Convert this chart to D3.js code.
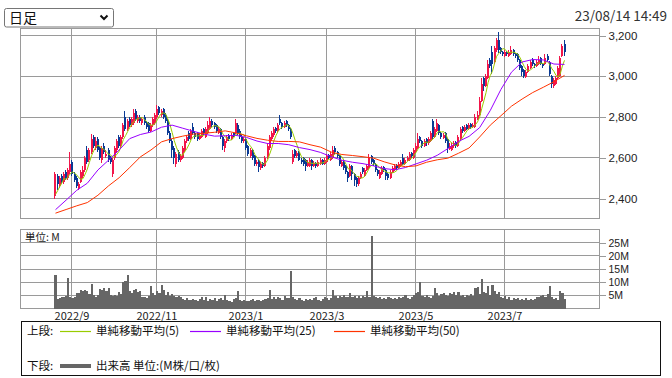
<!DOCTYPE html>
<html lang="ja">
<head>
<meta charset="utf-8">
<style>
  html, body { margin: 0; padding: 0; background: #fff; }
  svg { display: block; font-family: "Noto Sans CJK JP", "Noto Sans", sans-serif; }
  .grid line { stroke: #9a9a9a; shape-rendering: crispEdges; }
  .axis text { fill: #222; }
  .axis line { stroke: #9a9a9a; shape-rendering: crispEdges; }
  .axis path { display: none; }
</style>
</head>
<body>
<svg id="chart" width="672" height="378"></svg>
<script src="https://cdn.jsdelivr.net/npm/d3@7"></script>
<script>
const d3 = window.d3;

const firstDay = "2022-08-22";
const lastDay = "2023-08-14";
const holidays = [
  "2022-09-19", "2022-09-23", "2022-10-10", "2022-11-03", "2022-11-23",
  "2023-01-02", "2023-01-03", "2023-01-09", "2023-02-23", "2023-03-21",
  "2023-05-03", "2023-05-04", "2023-05-05", "2023-07-17", "2023-08-11",
];

// [open, high, low, close] per trading day
const candles = [
  [2410, 2530, 2400, 2520], [2510, 2520, 2440, 2470], [2460, 2510, 2450, 2500], [2510, 2520, 2470, 2480], [2480, 2530, 2470, 2520],
  [2530, 2540, 2490, 2500], [2500, 2550, 2490, 2540], [2530, 2630, 2520, 2570], [2580, 2590, 2510, 2520], [2520, 2530, 2480, 2490],
  [2500, 2510, 2450, 2460], [2450, 2480, 2440, 2470], [2480, 2540, 2475, 2530], [2510, 2560, 2500, 2540], [2540, 2610, 2530, 2600],
  [2640, 2660, 2570, 2580], [2590, 2650, 2580, 2640], [2630, 2715, 2620, 2690], [2700, 2710, 2650, 2660], [2650, 2700, 2640, 2680],
  [2690, 2700, 2630, 2640], [2650, 2660, 2590, 2600], [2590, 2660, 2575, 2650], [2660, 2670, 2620, 2630], [2610, 2640, 2600, 2620],
  [2640, 2650, 2580, 2590], [2600, 2610, 2570, 2580], [2520, 2600, 2505, 2590], [2600, 2660, 2590, 2650], [2640, 2690, 2630, 2680],
  [2700, 2710, 2650, 2660], [2660, 2710, 2650, 2700], [2700, 2770, 2690, 2760], [2800, 2830, 2730, 2740], [2740, 2790, 2730, 2780],
  [2790, 2800, 2750, 2760], [2760, 2800, 2750, 2790], [2770, 2840, 2760, 2820], [2830, 2840, 2780, 2790], [2780, 2810, 2770, 2800],
  [2800, 2810, 2770, 2780], [2770, 2800, 2760, 2790], [2800, 2810, 2760, 2770], [2770, 2780, 2740, 2750], [2770, 2775, 2720, 2730],
  [2730, 2770, 2725, 2760], [2760, 2800, 2750, 2790], [2770, 2820, 2760, 2810], [2800, 2860, 2790, 2840], [2850, 2855, 2810, 2820],
  [2810, 2840, 2800, 2830], [2840, 2845, 2790, 2800], [2810, 2820, 2770, 2780], [2780, 2790, 2710, 2720], [2720, 2730, 2670, 2680],
  [2680, 2690, 2600, 2640], [2650, 2660, 2570, 2600], [2570, 2630, 2555, 2620], [2630, 2640, 2580, 2590], [2590, 2620, 2580, 2610],
  [2600, 2660, 2595, 2650], [2640, 2690, 2630, 2680], [2680, 2710, 2670, 2700], [2720, 2730, 2680, 2690], [2690, 2740, 2685, 2730],
  [2750, 2770, 2710, 2720], [2720, 2730, 2690, 2700], [2720, 2725, 2680, 2690], [2690, 2720, 2685, 2710], [2700, 2740, 2695, 2730],
  [2740, 2745, 2710, 2720], [2700, 2750, 2695, 2740], [2720, 2780, 2715, 2760], [2740, 2800, 2735, 2780], [2780, 2790, 2750, 2760],
  [2770, 2775, 2740, 2750], [2760, 2765, 2720, 2730], [2720, 2750, 2715, 2740], [2740, 2745, 2690, 2700], [2700, 2705, 2640, 2660],
  [2650, 2690, 2630, 2680], [2680, 2710, 2670, 2700], [2710, 2715, 2680, 2690], [2690, 2720, 2685, 2710], [2720, 2725, 2700, 2705],
  [2720, 2790, 2715, 2770], [2760, 2770, 2710, 2720], [2730, 2740, 2690, 2700], [2700, 2710, 2670, 2680], [2680, 2700, 2670, 2690],
  [2690, 2695, 2640, 2650], [2660, 2665, 2610, 2620], [2610, 2650, 2600, 2640], [2640, 2645, 2590, 2600], [2610, 2615, 2560, 2570],
  [2570, 2590, 2560, 2580], [2590, 2595, 2530, 2555], [2550, 2580, 2540, 2570], [2575, 2580, 2550, 2560], [2560, 2610, 2555, 2600],
  [2600, 2670, 2595, 2660], [2650, 2710, 2640, 2700], [2690, 2730, 2680, 2720], [2710, 2750, 2700, 2740], [2745, 2750, 2720, 2730],
  [2730, 2770, 2725, 2760], [2790, 2810, 2760, 2770], [2770, 2775, 2740, 2750], [2750, 2780, 2745, 2770], [2780, 2785, 2750, 2760],
  [2760, 2765, 2730, 2740], [2740, 2745, 2690, 2700], [2580, 2640, 2570, 2620], [2640, 2645, 2600, 2610], [2610, 2635, 2600, 2625],
  [2630, 2635, 2585, 2590], [2590, 2600, 2570, 2580], [2600, 2605, 2560, 2570], [2590, 2595, 2535, 2560], [2560, 2590, 2555, 2580],
  [2560, 2600, 2555, 2590], [2590, 2595, 2540, 2560], [2560, 2585, 2555, 2575], [2575, 2580, 2550, 2560], [2560, 2590, 2555, 2580],
  [2570, 2600, 2565, 2590], [2590, 2595, 2565, 2570], [2570, 2600, 2565, 2590], [2580, 2620, 2575, 2610], [2615, 2620, 2595, 2600],
  [2590, 2630, 2585, 2620], [2600, 2660, 2595, 2640], [2650, 2660, 2620, 2630], [2630, 2635, 2600, 2610], [2610, 2615, 2560, 2570],
  [2560, 2590, 2555, 2580], [2580, 2585, 2540, 2550], [2560, 2565, 2520, 2530], [2530, 2535, 2480, 2500], [2510, 2570, 2505, 2560],
  [2560, 2565, 2490, 2520], [2520, 2525, 2460, 2490], [2500, 2505, 2455, 2470], [2470, 2510, 2460, 2500], [2500, 2530, 2495, 2520],
  [2550, 2555, 2520, 2530], [2510, 2550, 2505, 2540], [2540, 2570, 2535, 2560], [2550, 2620, 2545, 2600], [2610, 2615, 2570, 2580],
  [2590, 2595, 2560, 2570], [2570, 2575, 2530, 2540], [2540, 2545, 2510, 2520], [2500, 2540, 2495, 2530], [2520, 2560, 2515, 2550],
  [2555, 2560, 2530, 2540], [2540, 2545, 2490, 2510], [2520, 2525, 2490, 2500], [2500, 2540, 2495, 2530], [2530, 2560, 2525, 2550],
  [2540, 2570, 2535, 2560], [2565, 2570, 2540, 2550], [2550, 2580, 2545, 2570], [2560, 2590, 2555, 2580], [2600, 2620, 2565, 2570],
  [2570, 2600, 2565, 2590], [2590, 2610, 2585, 2600], [2590, 2630, 2585, 2620], [2625, 2630, 2600, 2610], [2600, 2650, 2595, 2640],
  [2630, 2670, 2625, 2660], [2650, 2720, 2645, 2690], [2700, 2705, 2670, 2680], [2680, 2685, 2650, 2660], [2660, 2690, 2655, 2680],
  [2690, 2695, 2660, 2670], [2670, 2700, 2665, 2690], [2680, 2730, 2675, 2720], [2780, 2790, 2690, 2700], [2700, 2750, 2695, 2740],
  [2730, 2790, 2725, 2770], [2760, 2765, 2710, 2720], [2720, 2725, 2690, 2700], [2695, 2720, 2690, 2710], [2720, 2725, 2670, 2680],
  [2690, 2695, 2625, 2650], [2645, 2670, 2640, 2660], [2640, 2670, 2635, 2660], [2660, 2680, 2650, 2670], [2675, 2680, 2650, 2660],
  [2660, 2710, 2655, 2700], [2690, 2750, 2685, 2740], [2750, 2755, 2720, 2730], [2730, 2760, 2725, 2750], [2760, 2765, 2735, 2740],
  [2740, 2770, 2735, 2760], [2765, 2770, 2740, 2750], [2750, 2770, 2745, 2760], [2750, 2815, 2745, 2800], [2790, 2830, 2785, 2810],
  [2810, 2900, 2805, 2880], [2880, 2990, 2875, 2960], [2990, 2995, 2930, 2950], [2950, 3010, 2945, 3000], [2990, 3080, 2985, 3060],
  [3080, 3090, 3040, 3050], [3120, 3150, 3010, 3060], [3070, 3150, 3060, 3140], [3130, 3190, 3120, 3180], [3180, 3215, 3115, 3130],
  [3140, 3145, 3110, 3120], [3120, 3125, 3100, 3110], [3100, 3130, 3095, 3120], [3120, 3125, 3100, 3110], [3100, 3130, 3095, 3120],
  [3110, 3150, 3105, 3130], [3130, 3135, 3100, 3110], [3110, 3115, 3090, 3100], [3110, 3115, 3070, 3080], [3080, 3085, 3030, 3040],
  [3050, 3055, 3000, 3020], [3030, 3035, 2990, 3000], [2995, 3030, 2990, 3020], [3020, 3060, 3015, 3050], [3040, 3080, 3035, 3070],
  [3080, 3090, 3050, 3060], [3060, 3065, 3040, 3050], [3050, 3080, 3045, 3070], [3060, 3100, 3055, 3080], [3090, 3095, 3055, 3060],
  [3060, 3065, 3040, 3050], [3060, 3110, 3055, 3090], [3100, 3110, 3070, 3080], [3070, 3075, 3000, 3010], [3000, 3005, 2940, 2960],
  [2950, 2990, 2940, 2980], [2960, 3000, 2955, 2990], [2990, 3050, 2985, 3040], [3000, 3100, 2995, 3090], [3100, 3160, 3095, 3150],
  [3160, 3180, 3100, 3120],
];

// volume, millions
const volumes = [
  12.8, 3.5, 4.0, 4.5, 4.2, 4.8, 11.6, 4.3, 4.0, 4.5,
  6.0, 5.8, 7.0, 6.5, 7.2, 6.8, 5.5, 9.4, 5.0, 4.5,
  5.2, 7.5, 7.2, 7.8, 6.5, 7.6, 5.0, 4.8, 5.2, 4.6,
  6.2, 5.5, 10.2, 10.6, 12.8, 6.5, 5.8, 7.0, 7.4, 6.4,
  6.8, 4.5, 4.2, 4.0, 4.6, 8.4, 5.8, 5.2, 6.5, 6.0,
  9.0, 7.2, 5.3, 6.4, 4.8, 5.5, 4.6, 4.2, 4.9, 4.4,
  3.6, 3.2, 3.8, 3.4, 3.1, 3.6, 3.3, 2.9, 3.5, 4.2,
  3.4, 4.4, 3.0, 3.7, 3.2, 3.8, 2.8, 3.6, 4.1, 3.1,
  5.0, 3.4, 3.0, 2.6, 3.5, 4.0, 6.7, 3.4, 2.9, 3.2,
  3.0, 2.7, 3.3, 3.6, 2.8, 3.1, 3.4, 2.9, 3.2, 3.7,
  3.9, 7.0, 3.6, 4.2, 3.5, 4.3, 3.8, 3.3, 4.6, 3.9,
  4.0, 14.4, 4.5, 3.6, 3.2, 3.9, 3.4, 3.0, 3.7, 3.3,
  3.5, 3.1, 3.8, 4.2, 3.4, 3.0, 3.6, 4.4, 3.9, 3.3,
  4.1, 7.0, 4.6, 4.0, 4.8, 4.3, 5.0, 4.5, 4.2, 6.0,
  4.4, 4.9, 4.1, 4.6, 3.9, 4.7, 4.3, 6.8, 4.5, 27.5,
  4.6, 4.2, 3.8, 4.4, 3.6, 4.0, 3.5, 4.3, 3.9, 3.7,
  4.1, 3.6, 4.5, 3.8, 4.2, 5.2, 4.0, 3.7, 4.3, 5.0,
  6.0, 6.3, 10.0, 4.8, 4.2, 5.0, 4.4, 3.9, 4.6, 7.6,
  5.8, 4.9, 5.6, 6.0, 5.2, 4.6, 5.9, 5.4, 6.2, 5.0,
  6.1, 4.8, 5.3, 4.4, 5.0, 4.6, 5.5, 4.8, 7.8, 8.2,
  5.6, 11.3, 6.3, 5.9, 8.4, 5.2, 9.0, 6.6, 5.4, 6.1,
  4.4, 3.9, 4.6, 3.6, 4.2, 3.3, 3.8, 3.5, 4.0, 3.2,
  3.7, 3.4, 3.9, 3.1, 3.6, 3.3, 3.5, 4.2, 4.5, 4.8,
  5.1, 4.4, 5.6, 8.6, 4.3, 3.6, 3.9, 3.2, 6.6, 5.8, 3.7,
];

// closes of the four sessions before the window, for the 5-day average
const priorCloses = [2380, 2400, 2390, 2410];

// 25- and 50-day averages read every 5th session
const maEvery = 5;
const ma25 = [
  2345, 2392, 2440, 2475, 2540, 2588, 2638, 2694, 2714, 2726,
  2750, 2760, 2745, 2730, 2716, 2706, 2708, 2710, 2700, 2682,
  2670, 2670, 2664, 2650, 2640, 2626, 2605, 2588, 2578, 2571,
  2560, 2547, 2541, 2552, 2570, 2588, 2612, 2645, 2680, 2705,
  2748, 2832, 2935, 3020, 3070, 3082, 3080, 3060, 3058,
];
const ma50 = [
  2328, 2346, 2364, 2380, 2416, 2462, 2502, 2552, 2604, 2638,
  2678, 2694, 2706, 2716, 2720, 2725, 2732, 2722, 2708, 2695,
  2686, 2680, 2680, 2678, 2664, 2652, 2628, 2616, 2611, 2605,
  2598, 2580, 2565, 2556, 2560, 2578, 2590, 2598, 2622, 2648,
  2702, 2760, 2806, 2853, 2888, 2920, 2946, 2973, 3004,
];

const priceTicks = [2400, 2600, 2800, 3000, 3200];
const volumeTicks = [5, 10, 15, 20, 25];

const upColor = "#f2164a";
const downColor = "#0a3a94";
const maLines = [
  { name: "単純移動平均(5)", color: "#99cc00" },
  { name: "単純移動平均(25)", color: "#9900ff" },
  { name: "単純移動平均(50)", color: "#ff3300" },
];

const svg = d3.select("#chart");
const fmtDay = d3.utcFormat("%Y-%m-%d");
const days = d3.utcDay
  .range(new Date(firstDay), d3.utcDay.offset(new Date(lastDay), 1))
  .filter((d) => d.getUTCDay() % 6 !== 0 && !holidays.includes(fmtDay(d)));

const monthStarts = days
  .map((d, i) => ({ d, i }))
  .filter(({ d, i }) => i > 0 && d.getUTCMonth() !== days[i - 1].getUTCMonth() && d.getUTCMonth() % 2 === 0);

const left = 20.5;
const right = 599.5;
const priceTop = 28.5;
const priceBottom = 218.5;
const volTop = 229.5;
const volBottom = 308.5;

const x = d3.scaleLinear().domain([-16.5, 256.5]).range([left, right]);
const yP = d3.scaleLinear().domain([2400, 3200]).range([198.5, 35.5]);
const yV = d3.scaleLinear().domain([0, 30]).range([volBottom, volTop]);
const px = (i) => Math.round(x(i));

drawHeader();
drawPanel(priceTop, priceBottom, priceTicks.map(yP));
drawPanel(volTop, volBottom, volumeTicks.map(yV));
drawCandles();
drawAverages();
drawVolume();
drawAxes();
drawLegend();

function drawHeader() {
  const g = svg.append("g");
  g.append("rect")
    .attr("x", 4.5).attr("y", 8.5).attr("width", 109).attr("height", 18.5)
    .attr("rx", 2).attr("fill", "#fff").attr("stroke", "#767676");
  g.append("text").attr("x", 9).attr("y", 23).attr("font-size", 14).attr("fill", "#111").text("日足");
  g.append("path")
    .attr("d", "M100.5,15.5 L104,19 L107.5,15.5")
    .attr("fill", "none").attr("stroke", "#111").attr("stroke-width", 2);
  svg.append("text")
    .attr("x", 667).attr("y", 21).attr("text-anchor", "end")
    .attr("font-size", 13.5).attr("fill", "#333").text("23/08/14 14:49");
}

function drawPanel(top, bottom, rows) {
  const g = svg.append("g").attr("class", "grid");
  g.selectAll("line.h")
    .data(rows)
    .join("line")
    .attr("class", "h")
    .attr("x1", left).attr("x2", right)
    .attr("y1", (y) => Math.round(y - 0.5) + 0.5).attr("y2", (y) => Math.round(y - 0.5) + 0.5);
  g.selectAll("line.v")
    .data(monthStarts)
    .join("line")
    .attr("class", "v")
    .attr("x1", (m) => px(m.i) - 0.5).attr("x2", (m) => px(m.i) - 0.5)
    .attr("y1", top).attr("y2", bottom);
  g.append("rect")
    .attr("x", left).attr("y", top).attr("width", right - left).attr("height", bottom - top)
    .attr("fill", "none").attr("stroke", "#9a9a9a").attr("shape-rendering", "crispEdges");
}

function drawCandles() {
  const g = svg.append("g");
  const rows = candles.map(([o, h, l, c], i) => ({ i, o, h, l, c, up: c >= o }));
  g.selectAll("line")
    .data(rows)
    .join("line")
    .attr("x1", (r) => px(r.i) - 0.5).attr("x2", (r) => px(r.i) - 0.5)
    .attr("y1", (r) => yP(r.h)).attr("y2", (r) => yP(r.l))
    .attr("stroke", (r) => (r.up ? upColor : downColor))
    .attr("shape-rendering", "crispEdges");
  g.selectAll("rect")
    .data(rows)
    .join("rect")
    .attr("x", (r) => px(r.i) - 1)
    .attr("width", 2)
    .attr("y", (r) => yP(Math.max(r.o, r.c)))
    .attr("height", (r) => Math.max(1, Math.abs(yP(r.o) - yP(r.c))))
    .attr("fill", (r) => (r.up ? upColor : downColor))
    .attr("shape-rendering", "crispEdges");
}

function drawAverages() {
  const closes = candles.map((c) => c[3]);
  const series = priorCloses.concat(closes);
  const ma5 = closes.map((_, i) => d3.mean(series.slice(i, i + 5)));
  const sets = [
    ma5.map((v, i) => [i, v]),
    ma25.map((v, k) => [k * maEvery, v]),
    ma50.map((v, k) => [k * maEvery, v]),
  ];
  const line = d3.line().x((p) => x(p[0])).y((p) => yP(p[1]));
  svg.append("g")
    .selectAll("path")
    .data(sets)
    .join("path")
    .attr("d", line)
    .attr("fill", "none")
    .attr("stroke", (_, k) => maLines[k].color)
    .attr("stroke-width", 1);
}

function drawVolume() {
  svg.append("g")
    .selectAll("rect")
    .data(volumes)
    .join("rect")
    .attr("x", (_, i) => px(i) - 1)
    .attr("width", (_, i) => Math.max(2, px(i + 1) - px(i)))
    .attr("y", (v) => yV(v))
    .attr("height", (v) => volBottom - yV(v))
    .attr("fill", "#666")
    .attr("shape-rendering", "crispEdges");
  svg.append("text")
    .attr("x", 25).attr("y", 241).attr("font-size", 10.5).attr("fill", "#222").text("単位: M");
}

function drawAxes() {
  svg.append("g")
    .attr("class", "axis")
    .attr("transform", `translate(${right},0)`)
    .call(d3.axisRight(yP).tickValues(priceTicks).tickFormat(d3.format(",")).tickSize(6).tickPadding(3))
    .call((g) => g.selectAll("text").attr("font-size", 11.5).attr("font-family", null));
  svg.append("g")
    .attr("class", "axis")
    .attr("transform", `translate(${right},0)`)
    .call(d3.axisRight(yV).tickValues(volumeTicks).tickFormat((v) => `${v}M`).tickSize(6).tickPadding(3))
    .call((g) => g.selectAll("text").attr("font-size", 10.5).attr("font-family", null));
  const fmtMonth = d3.utcFormat("%Y/%-m");
  svg.append("g")
    .attr("class", "axis")
    .selectAll("text")
    .data(monthStarts)
    .join("text")
    .attr("x", (m) => px(m.i))
    .attr("y", 320)
    .attr("text-anchor", "middle")
    .attr("font-size", 11)
    .text((m) => fmtMonth(m.d));
}

function drawLegend() {
  const g = svg.append("g").attr("font-size", 11.5).attr("fill", "#111");
  g.append("rect")
    .attr("x", 21.5).attr("y", 321.5).attr("width", 639).attr("height", 54)
    .attr("fill", "none").attr("stroke", "#111");
  const row1 = 331;
  const row2 = 366;
  g.append("text").attr("x", 27).attr("y", row1 + 4).text("上段:");
  const starts = [60, 190, 334];
  maLines.forEach((m, k) => {
    g.append("line")
      .attr("x1", starts[k]).attr("x2", starts[k] + 31)
      .attr("y1", row1 + 0.5).attr("y2", row1 + 0.5)
      .attr("stroke", m.color).attr("stroke-width", 1.2);
    g.append("text").attr("x", starts[k] + 36).attr("y", row1 + 4).text(m.name);
  });
  g.append("text").attr("x", 27).attr("y", row2 + 4).text("下段:");
  g.append("line")
    .attr("x1", 60).attr("x2", 91).attr("y1", row2).attr("y2", row2)
    .attr("stroke", "#666").attr("stroke-width", 4);
  g.append("text").attr("x", 96).attr("y", row2 + 4).text("出来高 単位:(M株/口/枚)");
}
</script>
</body>
</html>
